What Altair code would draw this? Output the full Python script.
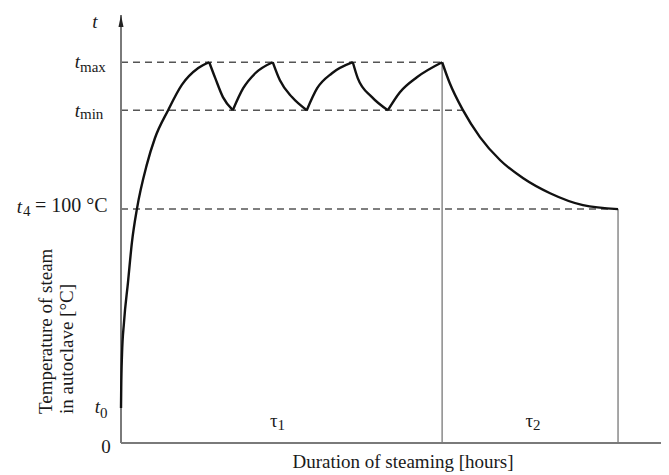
import altair as alt
import pandas as pd

# ---- levels on the temperature axis (°C) ----
T0 = 15.0
T4 = 100.0
T_MIN = 142.3
T_MAX = 162.8
T_TOP = 183.0

# ---- time marks (hours) ----
TAU1_END = 5.86
TAU2_END = 9.07
T_MIN_CROSS = 6.24
X_END = 10.0
X_ARROW = 10.15

# ---- curve, one list per segment ----
segment_names = ["rise0", "fall1", "rise1", "fall2", "rise2", "fall3", "rise3", "cool"]
segment_hours = [
    [0.0, 0.004, 0.018, 0.055, 0.128, 0.20, 0.29, 0.47, 0.62, 0.86, 1.11, 1.41, 1.61],
    [1.61, 1.72, 1.86, 2.04],
    [2.04, 2.23, 2.45, 2.77],
    [2.77, 2.90, 3.12, 3.39],
    [3.39, 3.58, 3.85, 4.23],
    [4.23, 4.32, 4.58, 4.87],
    [4.87, 5.09, 5.40, 5.86],
    [5.86, 6.00, 6.24, 6.55, 6.92, 7.34, 7.83, 8.43, 9.07],
]
segment_temps = [
    [15.0, 23.5, 37.6, 51.7, 68.8, 85.9, 100.0, 118.9, 130.4, 142.3, 153.1, 160.3, 162.8],
    [162.8, 156.0, 147.9, 142.3],
    [142.3, 151.7, 158.1, 162.8],
    [162.8, 155.1, 147.9, 142.3],
    [142.3, 151.7, 158.1, 162.8],
    [162.8, 156.0, 147.9, 142.3],
    [142.3, 150.0, 156.4, 162.8],
    [162.8, 153.8, 142.3, 130.8, 120.9, 113.2, 106.8, 101.7, 100.0],
]

rows = []
for name, hs, ts in zip(segment_names, segment_hours, segment_temps):
    for h, t in zip(hs, ts):
        rows.append({"seg": name, "h": h, "T": t})
curve_df = pd.DataFrame(rows)

PLOT_W = 540          # visible plot width (page is only 669 px wide)
AXIS_PX = 548         # the time axis runs on past the page edge, as in the reference

xs = alt.Scale(domain=[0, X_END], range=[0, AXIS_PX], nice=False, zero=False)
ys = alt.Scale(domain=[0, T_TOP], nice=False, zero=False)

SERIF = "Liberation Serif"
INK = "#1a1a1a"


def X(field):
    return alt.X(field, type="quantitative", scale=xs, axis=None)


def Y(field):
    return alt.Y(field, type="quantitative", scale=ys, axis=None)


curve = alt.Chart(curve_df).mark_line(
    interpolate="monotone", color="#111111", strokeWidth=2.4
).encode(x=X("h"), y=Y("T"), detail="seg:N")

dash_df = pd.DataFrame({
    "x": [0, 0, 0],
    "x2": [TAU1_END, T_MIN_CROSS, TAU2_END],
    "y": [T_MAX, T_MIN, T4],
})
dashes = alt.Chart(dash_df).mark_rule(
    color="#555555", strokeWidth=1.5, strokeDash=[7, 5]
).encode(x=X("x"), x2="x2:Q", y=Y("y"))

vert_df = pd.DataFrame({"x": [TAU1_END, TAU2_END], "y": [0, 0], "y2": [T_MAX, T4]})
verts = alt.Chart(vert_df).mark_rule(color="#8a8a8a", strokeWidth=1.5).encode(
    x=X("x"), y=Y("y"), y2="y2:Q"
)

axis_df = pd.DataFrame({"x": [0, 0], "x2": [0, X_END], "y": [0, 0], "y2": [T_TOP, 0]})
axes = alt.Chart(axis_df).mark_rule(color="#7a7a7a", strokeWidth=2).encode(
    x=X("x"), x2="x2:Q", y=Y("y"), y2="y2:Q"
)

arrow_up = alt.Chart(pd.DataFrame({"x": [0], "y": [T_TOP]})).mark_point(
    shape="M0,0L0.42,2L-0.42,2Z", size=144, filled=True, color="#222222", opacity=1
).encode(x=X("x"), y=Y("y"))
arrow_right = alt.Chart(pd.DataFrame({"x": [X_ARROW], "y": [0]})).mark_point(
    shape="M0,0L-2,-0.42L-2,0.42Z", size=144, filled=True, color="#222222", opacity=1
).encode(x=X("x"), y=Y("y"))


def txt(x, y, s, dx=0, dy=0, size=19, italic=False, align="center",
        baseline="alphabetic", angle=0):
    kw = dict(align=align, baseline=baseline, dx=dx, dy=dy, fontSize=size,
              font=SERIF, color=INK)
    if italic:
        kw["fontStyle"] = "italic"
    if angle:
        kw["angle"] = angle
    return alt.Chart(pd.DataFrame({"x": [x], "y": [y], "s": [s]})).mark_text(**kw).encode(
        x=X("x"), y=Y("y"), text="s:N"
    )


labels = [
    txt(0, T_TOP, "t", dx=-26, dy=7, italic=True, baseline="middle"),
    txt(0, T_MAX, "t", dx=-41, dy=6, italic=True, align="right"),
    txt(0, T_MAX, "max", dx=-41, dy=10, size=15, align="left"),
    txt(0, T_MIN, "t", dx=-41, dy=7, italic=True, align="right"),
    txt(0, T_MIN, "min", dx=-41, dy=9, size=15, align="left"),
    txt(0, T4, "t", dx=-99, dy=4, italic=True, align="right"),
    txt(0, T4, "4", dx=-98, dy=7, size=15, align="left"),
    txt(0, T4, "= 100 °C", dx=-86, dy=3, size=20, align="left"),
    txt(0, T0, "t", dx=-21, dy=5, italic=True, align="right"),
    txt(0, T0, "0", dx=-21, dy=10, size=15, align="left"),
    txt(0, 0, "0", dx=-15, dy=4, baseline="middle"),
    txt(TAU1_END / 2, 0, "τ", dx=-4, dy=-16, align="right"),
    txt(TAU1_END / 2, 0, "1", dx=-4, dy=-13, size=15, align="left"),
    txt((TAU1_END + TAU2_END) / 2, 0, "τ", dx=3, dy=-16, align="right"),
    txt((TAU1_END + TAU2_END) / 2, 0, "2", dx=3, dy=-13, size=15, align="left"),
    txt(X_END / 2, 0, "Duration of steaming [hours]", dx=8, dy=25),
    txt(0, 0, "Temperature of steam", dx=29, dy=-75, align="left",
        baseline="middle", angle=270),
    txt(0, 0, "in autoclave [°C]", dx=29, dy=-54, align="left",
        baseline="middle", angle=270),
]

chart = alt.layer(dashes, verts, axes, curve, arrow_up, arrow_right, *labels).properties(
    width=PLOT_W,
    height=428,
    padding={"left": 113, "top": 7, "right": 0, "bottom": 30},
    autosize=alt.AutoSizeParams(type="none"),
    background="white",
).configure_view(stroke=None)

chart.save("out.html", embed_options={"renderer": "svg", "actions": False})
